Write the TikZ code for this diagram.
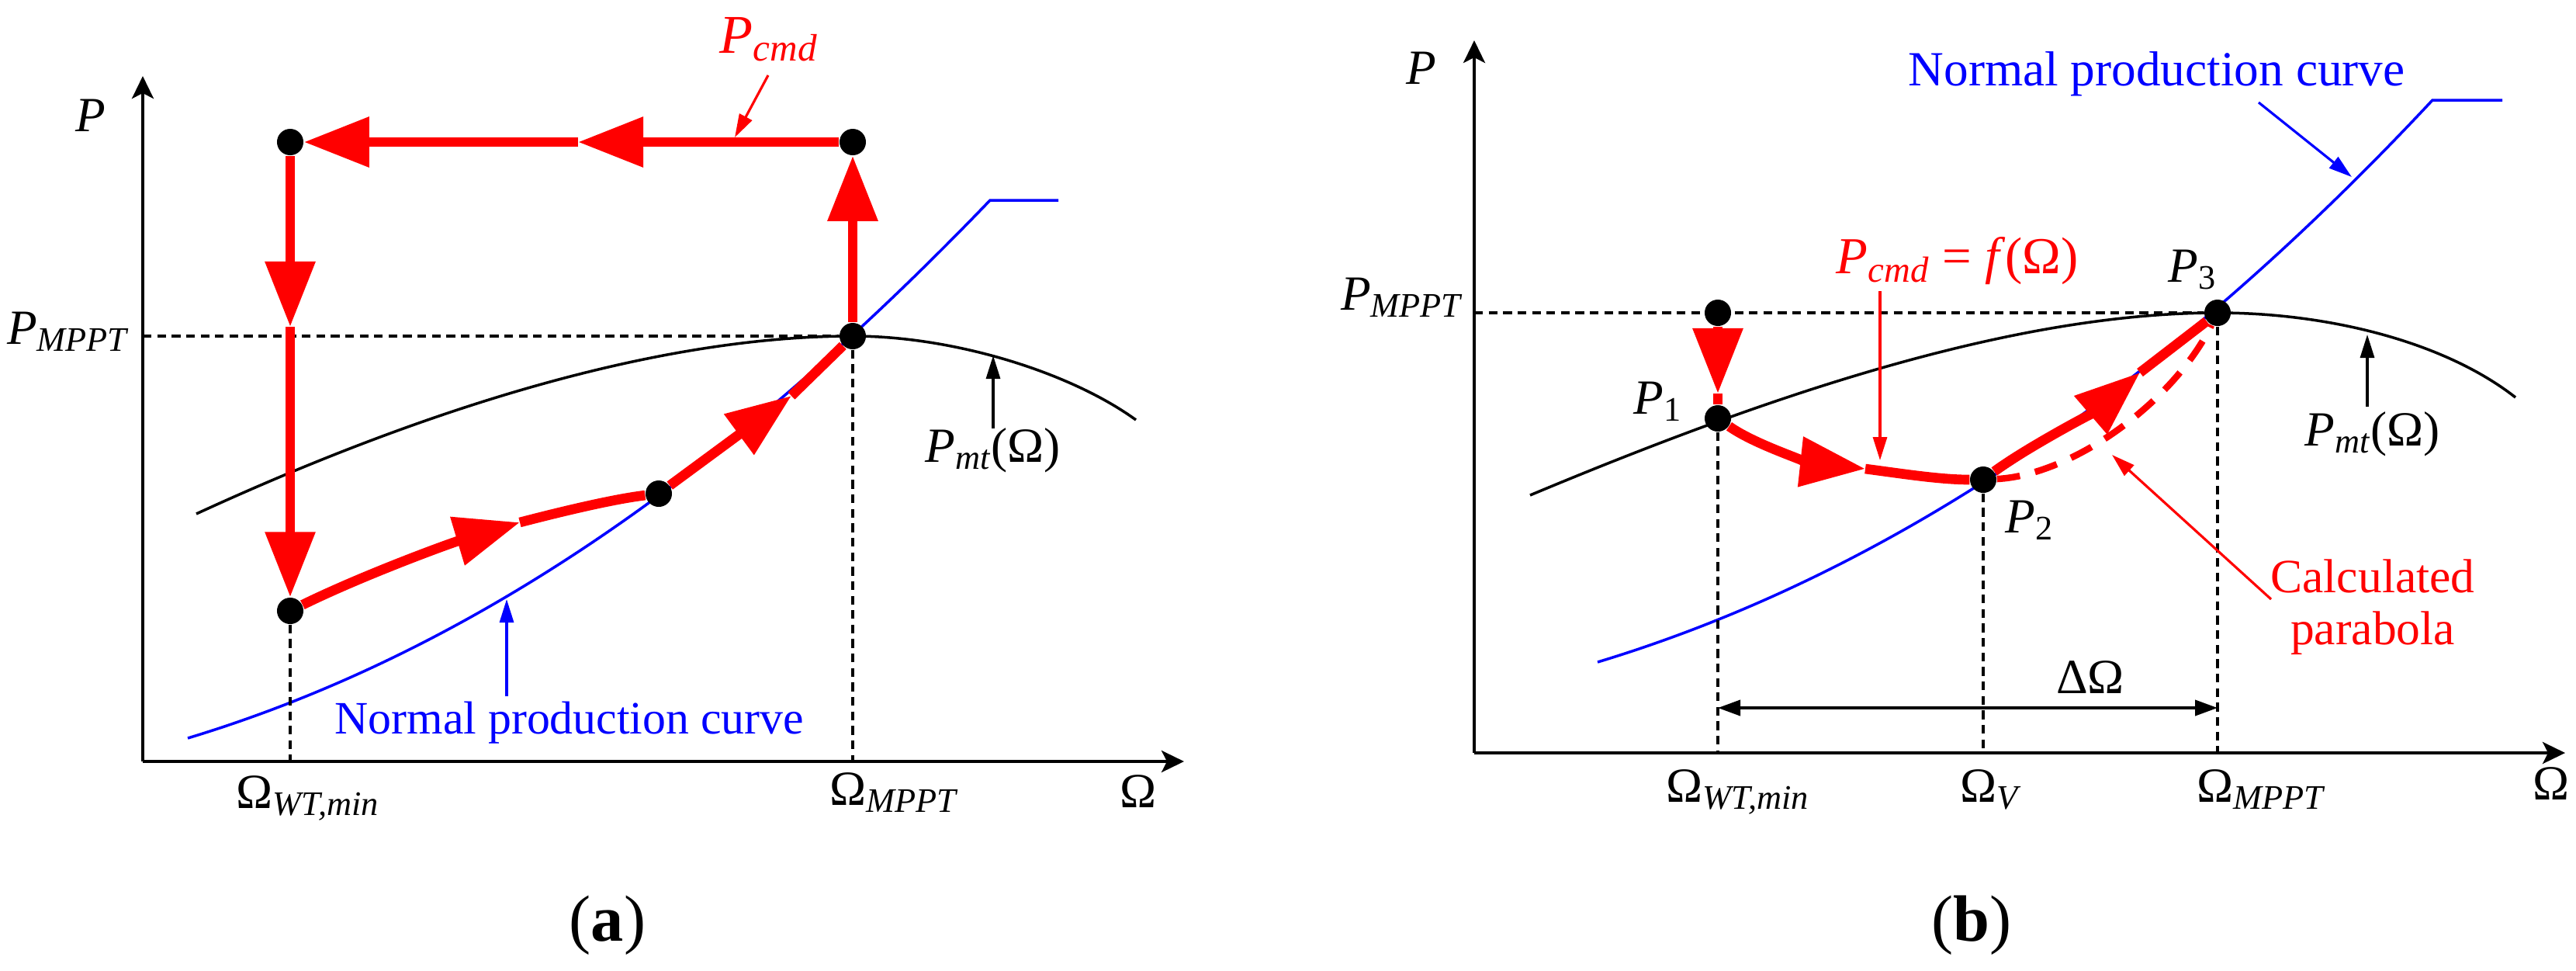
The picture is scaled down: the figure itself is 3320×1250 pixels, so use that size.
\documentclass[tikz,border=0pt]{standalone}
\usepackage{fontspec}
\setmainfont{Liberation Serif}
\usetikzlibrary{arrows.meta}
\newcommand{\lowtxt}[1]{\textsubscript{\itshape #1}}

\begin{document}
\begin{tikzpicture}[x=0.01cm, y=-0.01cm,
  axis/.style={line width=1.1pt, -{Stealth[length=0.29cm, width=0.28cm, inset=0.07cm]}},
  guide/.style={line width=0.9pt, dash pattern=on 3.2pt off 2.1pt},
  pmt/.style={line width=1pt},
  npc/.style={line width=1pt, blue},
  cmdline/.style={line width=3.6pt, red},
  bigtip/.style={-{Triangle[length=0.84cm, width=0.62cm]}},
  pointer/.style={line width=0.9pt, -{Triangle[length=0.3cm, width=0.18cm]}},
  dim/.style={line width=1.1pt, {Triangle[length=0.29cm, width=0.2cm]}-{Triangle[length=0.29cm, width=0.2cm]}},
  dot/.style={circle, fill=black, inner sep=0pt, minimum size=0.34cm},
  lbl/.style={font=\fontsize{18}{21}\selectfont, inner sep=0pt},
  panel/.style={font=\fontsize{24}{28}\selectfont, inner sep=0pt}]
\fill[white] (0,0) rectangle (3320,1250);
\useasboundingbox (0,0) rectangle (3320,1250);

% Panel (a): command follows a rectangle back to the MPPT point
\begin{scope}
\coordinate (oa) at (184,981);
\draw[axis] (oa) -- (184,98);
\draw[axis] (oa) -- (1526,981);
\node[lbl, anchor=base west] (pa) at (97,169) {\textit{P}};
\node[lbl, anchor=base west] (wa) at (1443,1040) {Ω};
% turbine power and normal production curves
\draw[pmt] (253,662) .. controls (553,524) and (850,433) .. (1099,433) .. controls (1230,433) and (1380,480) .. (1464,541);
\draw[npc] (242,951) .. controls (642,830) and (976,570) .. (1276,258) -- (1364,258);
\node[dot] (a1) at (1099,183) {};
\node[dot] (a2) at (374,183) {};
\node[dot] (a3) at (374,787) {};
\node[dot] (a4) at (849,636) {};
\node[dot] (a5) at (1099,433) {};
\draw[guide] (oa |- a5) -- (a5);
\draw[guide] (a3) -- (a3 |- oa);
\draw[guide] (a5) -- (a5 |- oa);
% command power path
\draw[cmdline, bigtip] (a1) -- (745,183);
\draw[cmdline, bigtip] (745,183) -- (a2);
\draw[cmdline, bigtip] (a2) -- (374,421);
\draw[cmdline, bigtip] (374,421) -- (a3);
\draw[cmdline, bigtip] (a3) .. controls (470,740) and (580,700) .. (670,673);
\draw[cmdline] (670,673) .. controls (720,660) and (790,643) .. (a4);
\draw[cmdline, bigtip] (a4) -- (1020,510);
\draw[cmdline] (1020,510) -- (a5);
\draw[cmdline, bigtip] (a5) -- (a1);
% labels
\node[lbl, anchor=base east] (pmppta) at (166,443) {\textit{P}\lowtxt{MPPT}};
\node[lbl, anchor=base west] (wmina) at (304,1041) {Ω\lowtxt{WT,min}};
\node[lbl, anchor=base west] (wmppta) at (1069,1037) {Ω\lowtxt{MPPT}};
\node[lbl, anchor=base west] (pmta) at (1192,595) {\textit{P}\lowtxt{mt}(Ω)};
\coordinate (pmta-to) at (1280,458);
\draw[pointer] (1280,552) -- (pmta-to);
\node[lbl, red, font=\fontsize{20}{24}\selectfont, anchor=base west] (pcmda) at (927,68) {\textit{P}\lowtxt{cmd}};
\coordinate (pcmda-to) at (947,177);
\draw[pointer, red] (990,97) -- (pcmda-to);
\node[lbl, blue, font=\fontsize{17}{20}\selectfont, anchor=base west] (npca) at (431,945) {Normal production curve};
\coordinate (npca-to) at (653,772);
\draw[pointer, blue] (653,897) -- (npca-to);
\node[panel, anchor=base] (capa) at (783,1212) {(\textbf{a})};
\end{scope}

% Panel (b): command follows a parabola from P1 through P2 to P3
\begin{scope}
\coordinate (ob) at (1900,970);
\draw[axis] (ob) -- (1900,52);
\draw[axis] (ob) -- (3306,970);
\node[lbl, anchor=base west] (pb) at (1812,108) {\textit{P}};
\node[lbl, anchor=base west] (wb) at (3264,1030) {Ω};
% turbine power and normal production curves
\draw[pmt] (1972,638) .. controls (2292,504) and (2600,403) .. (2858,403) .. controls (3000,403) and (3150,440) .. (3242,512);
\draw[npc] (2059,853) .. controls (2479,726) and (2835,450) .. (3135,129) -- (3225,129);
\node[dot] (b0) at (2214,403) {};
\node[dot] (b1) at (2214,539) {};
\node[dot] (b2) at (2556,618) {};
\node[dot] (b3) at (2858,403) {};
\draw[guide] (ob |- b3) -- (b3);
\draw[guide] (b1) -- (b1 |- ob);
\draw[guide] (b2) -- (b2 |- ob);
\draw[guide] (b3) -- (b3 |- ob);
% delta omega
\coordinate (dd) at (2500,912);
\draw[dim] (b1 |- dd) -- (b3 |- dd);
\node[lbl, anchor=base] (dw) at (2694,893) {ΔΩ};
% calculated parabola and command power path
\draw[red, line width=2.4pt, dash pattern=on 8.5pt off 5.7pt] (b2) .. controls (2670,612) and (2800,520) .. (b3);
\draw[cmdline, bigtip] (b0) -- (2214,507);
\draw[cmdline] (2214,507) -- (b1);
\draw[cmdline, bigtip] (b1) .. controls (2265,575) and (2340,597) .. (2404,604);
\draw[cmdline] (2404,604) .. controls (2450,610) and (2500,618) .. (b2);
\draw[cmdline, bigtip] (b2) .. controls (2610,578) and (2700,530) .. (2758,480);
\draw[cmdline] (2758,480) -- (b3);
% labels
\node[lbl, anchor=base east] (pmpptb) at (1885,399) {\textit{P}\lowtxt{MPPT}};
\node[lbl, anchor=base west] (p1) at (2105,533) {\textit{P}\textsubscript{1}};
\node[lbl, anchor=base west] (p2) at (2584,686) {\textit{P}\textsubscript{2}};
\node[lbl, anchor=base west] (p3) at (2794,363) {\textit{P}\textsubscript{3}};
\node[lbl, anchor=base west] (wminb) at (2147,1033) {Ω\lowtxt{WT,min}};
\node[lbl, anchor=base west] (wv) at (2526,1033) {Ω\lowtxt{V}};
\node[lbl, anchor=base west] (wmpptb) at (2831,1033) {Ω\lowtxt{MPPT}};
\node[lbl, anchor=base west] (pmtb) at (2970,574) {\textit{P}\lowtxt{mt}(Ω)};
\coordinate (pmtb-to) at (3051,431);
\draw[pointer] (3051,524) -- (pmtb-to);
\node[lbl, red, font=\fontsize{19}{23}\selectfont, anchor=base west] (pcmdb) at (2366,352) {\textit{P}\lowtxt{cmd} = \textit{f}(Ω)};
\coordinate (pcmdb-to) at (2423,593);
\draw[pointer, red] (2423,375) -- (pcmdb-to);
\node[lbl, blue, anchor=base west] (npcb) at (2459,110) {Normal production curve};
\coordinate (npcb-to) at (3031,228);
\draw[pointer, blue] (2911,132) -- (npcb-to);
\node[lbl, red, font=\fontsize{17.5}{19}\selectfont, align=center, anchor=north] (calc) at (3058,720) {Calculated\\parabola};
\coordinate (calc-to) at (2722,586);
\draw[pointer, red] (2927,772) -- (calc-to);
\node[panel, anchor=base] (capb) at (2541,1212) {(\textbf{b})};
\end{scope}
\end{tikzpicture}
\end{document}
